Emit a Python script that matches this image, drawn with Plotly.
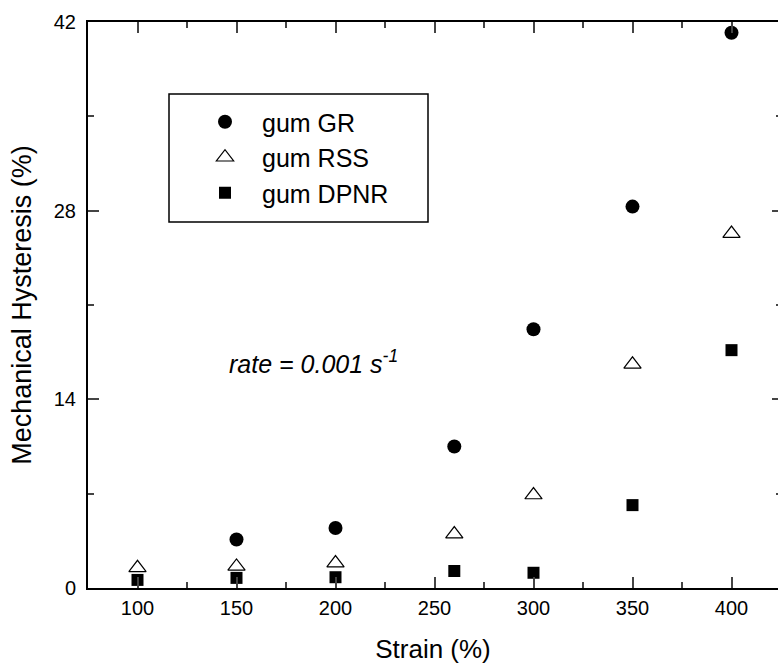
import plotly.graph_objects as go

strain = [100, 150, 200, 260, 300, 350, 400]
gr_strain = [150, 200, 260, 300, 350, 400]
gum_gr = [3.6, 4.45, 10.5, 19.2, 28.3, 41.2]
gum_rss = [1.5, 1.6, 1.85, 4.0, 6.9, 16.6, 26.3]
gum_dpnr = [0.6, 0.75, 0.8, 1.26, 1.13, 6.15, 17.65]

y_ticks = [0, 14, 28, 42]
x_ticks = [100, 150, 200, 250, 300, 350, 400]

W, H = 778, 664
L, R, T, B = 88, 0, 22, 76
pw, ph = W - L - R, H - T - B

def px(x):
    return (x - L) / pw

def py(y):
    return (H - B - y) / ph

FONT = "Liberation Sans, Arial, sans-serif"

fig = go.Figure()
fig.add_trace(go.Scatter(x=gr_strain, y=gum_gr, mode="markers", name="gum GR",
                         marker=dict(symbol="circle", size=14, color="black")))
fig.add_trace(go.Scatter(x=strain, y=gum_rss, mode="markers", name="gum RSS",
                         marker=dict(symbol="triangle-up-open", size=15, color="black",
                                     line=dict(width=1.2, color="black"))))
fig.add_trace(go.Scatter(x=strain, y=gum_dpnr, mode="markers", name="gum DPNR",
                         marker=dict(symbol="square", size=12, color="black")))
fig.add_trace(go.Scatter(x=[], y=[], yaxis="y2", showlegend=False, hoverinfo="skip"))

fig.update_layout(
    width=W, height=H,
    margin=dict(l=L, r=R, t=T, b=B, pad=0),
    paper_bgcolor="white", plot_bgcolor="white",
    font=dict(family=FONT, color="black", size=20),
    showlegend=True,
    legend=dict(x=px(188), y=py(99), xanchor="left", yanchor="top",
                bgcolor="rgba(0,0,0,0)", borderwidth=0,
                font=dict(size=25, family=FONT), itemwidth=64,
                tracegroupgap=0),
    xaxis=dict(range=[75, 75 + pw / 1.98], tickvals=x_ticks, ticks="inside", ticklen=11,
               tickwidth=2, showline=True, linewidth=2, linecolor="black",
               mirror="ticks", showgrid=False, zeroline=False,
               minor=dict(dtick=25, tick0=0, ticks="inside", ticklen=6, tickwidth=2),
               title=dict(text="Strain (%)", font=dict(size=26), standoff=23),
               tickfont=dict(size=20), ticklabelstandoff=1),
    yaxis=dict(range=[0, 42], tickvals=y_ticks, ticks="inside", ticklen=11, tickwidth=2,
               showline=True, linewidth=2, linecolor="black", showgrid=False,
               zeroline=False,
               minor=dict(dtick=7, tick0=0, ticks="inside", ticklen=6, tickwidth=2),
               title=dict(text="Mechanical Hysteresis (%)", font=dict(size=27), standoff=14),
               tickfont=dict(size=20), ticklabelstandoff=6),
    yaxis2=dict(range=[0, 42], overlaying="y", side="right", tickvals=y_ticks,
                ticks="inside", ticklen=6, tickwidth=2, showline=False,
                showticklabels=False, showgrid=False, zeroline=False,
                minor=dict(dtick=7, tick0=0, ticks="inside", ticklen=2, tickwidth=2)),
    shapes=[dict(type="rect", xref="paper", yref="paper",
                 x0=px(169), x1=px(428), y0=py(222), y1=py(94),
                 line=dict(color="black", width=1.5), fillcolor="rgba(0,0,0,0)")],
    annotations=[dict(text="<i>rate = 0.001 s<sup>-1</sup></i>", xref="paper", yref="paper",
                      x=px(313), y=py(362), xanchor="center", yanchor="middle",
                      showarrow=False, font=dict(size=25, family=FONT))],
)

fig.write_html("out.html", config={"displayModeBar": False},
               post_script="document.body.style.margin='0px';")
